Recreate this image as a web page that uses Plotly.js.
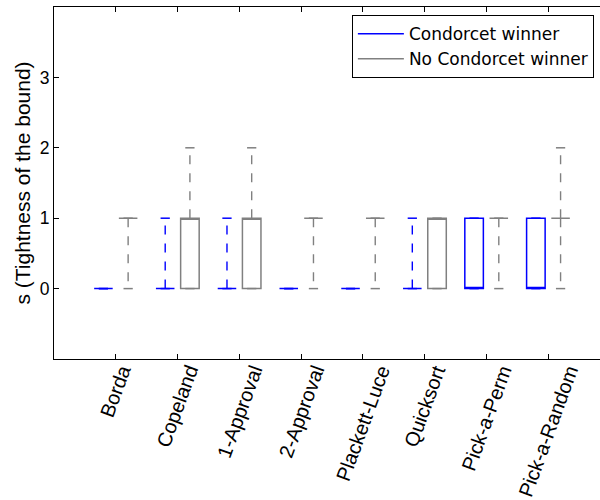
<!DOCTYPE html>
<html>
<head>
<meta charset="utf-8">
<script src="https://cdn.plot.ly/plotly-3.0.1.min.js"></script>
<style>
html, body { margin: 0; padding: 0; overflow: hidden; background: #fff; }
#chart { width: 610px; height: 500px; }
</style>
</head>
<body>
<div id="chart"></div>
<script>
// ---- data ----
const categories = ['Borda', 'Copeland', '1-Approval', '2-Approval', 'Plackett-Luce', 'Quicksort', 'Pick-a-Perm', 'Pick-a-Random'];

// Condorcet winner (blue)
const cwLow  = [0, 0, 0, 0, 0, 0, 0, 0];
const cwQ1   = [0, 0, 0, 0, 0, 0, 0, 0];
const cwMed  = [0, 0, 0, 0, 0, 0, 0, 0];
const cwQ3   = [0, 0, 0, 0, 0, 0, 1, 1];
const cwHigh = [0, 1, 1, 0, 0, 1, 1, 1];

// No Condorcet winner (gray)
const ncLow  = [0, 0, 0, 0, 0, 0, 0, 0];
const ncQ1   = [1, 0, 0, 1, 1, 0, 1, 1];
const ncMed  = [1, 1, 1, 1, 1, 1, 1, 1];
const ncQ3   = [1, 1, 1, 1, 1, 1, 1, 1];
const ncHigh = [1, 2, 2, 1, 1, 1, 1, 2];

const yTicks = [0, 1, 2, 3];

// ---- styling / layout ----
const BLUE = '#0000ff';
const GRAY = '#808080';
const ARIAL = 'Liberation Sans, Arial, sans-serif';
const DEJAVU = 'DejaVu Sans, sans-serif';
const OFFSET = 0.2, BOXW = 0.3, CAPW = 0.15;
const centers = categories.map((_, i) => i + 1);

function group(color, offset, low, q1, med, q3, high) {
  const pos = centers.map(c => c + offset);
  const box = {
    type: 'box', x: pos, q1: q1, median: med, q3: q3,
    lowerfence: q1, upperfence: q3, width: BOXW,
    line: { color: color, width: 1.5 }, fillcolor: 'rgba(0,0,0,0)',
    boxpoints: false, showlegend: false, hoverinfo: 'skip'
  };
  const wx = [], wy = [], cx = [], cy = [];
  pos.forEach((p, i) => {
    if (high[i] !== q3[i]) { wx.push(p, p, null); wy.push(q3[i], high[i], null); }
    if (low[i] !== q1[i]) { wx.push(p, p, null); wy.push(q1[i], low[i], null); }
    cx.push(p - CAPW / 2, p + CAPW / 2, null); cy.push(high[i], high[i], null);
    cx.push(p - CAPW / 2, p + CAPW / 2, null); cy.push(low[i], low[i], null);
  });
  const whisk = {
    type: 'scatter', mode: 'lines', x: wx, y: wy,
    line: { color: color, width: 1.4, dash: '9px,9px' },
    showlegend: false, hoverinfo: 'skip'
  };
  const caps = {
    type: 'scatter', mode: 'lines', x: cx, y: cy,
    line: { color: color, width: 1.5 }, showlegend: false, hoverinfo: 'skip'
  };
  return [box, whisk, caps];
}

const traces = [
  ...group(BLUE, -OFFSET, cwLow, cwQ1, cwMed, cwQ3, cwHigh),
  ...group(GRAY, OFFSET, ncLow, ncQ1, ncMed, ncQ3, ncHigh),
  { type: 'scatter', mode: 'lines', x: [null], y: [null], name: 'Condorcet winner', line: { color: BLUE, width: 1.5 } },
  { type: 'scatter', mode: 'lines', x: [null], y: [null], name: 'No Condorcet winner', line: { color: GRAY, width: 1.5 } }
];

// rotated category labels, centred under each tick (matplotlib style)
const labelAnnotations = categories.map((name, i) => ({
  text: name, x: centers[i], xref: 'x', y: 0, yref: 'paper',
  xanchor: 'center', yanchor: 'top', yshift: -2, textangle: -70,
  showarrow: false, borderpad: 0,
  font: { family: ARIAL, size: 20, color: '#000' }
}));

const layout = {
  width: 610, height: 500,
  margin: { l: 54, r: 0, t: 7, b: 141 },
  paper_bgcolor: '#fff', plot_bgcolor: '#fff',
  font: { family: DEJAVU, size: 17, color: '#000' },
  showlegend: true,
  legend: {
    x: 0.971, xanchor: 'right', y: 0.977, yanchor: 'top',
    bordercolor: '#000', borderwidth: 1, bgcolor: '#fff', itemwidth: 46,
    font: { family: DEJAVU, size: 17, color: '#000' }
  },
  annotations: labelAnnotations,
  xaxis: {
    range: [0, 9], tickvals: centers, ticktext: categories, showticklabels: false,
    ticks: 'inside', ticklen: 5, tickcolor: '#000', tickwidth: 1,
    showline: true, linecolor: '#000', linewidth: 1, mirror: 'ticks',
    showgrid: false, zeroline: false
  },
  yaxis: {
    range: [-1, 4], tickvals: yTicks, ticktext: yTicks.map(String),
    ticks: 'inside', ticklen: 5, tickcolor: '#000', tickwidth: 1,
    showline: true, linecolor: '#000', linewidth: 1, mirror: 'ticks',
    showgrid: false, zeroline: false,
    tickfont: { family: ARIAL, size: 17.5, color: '#000' },
    title: { text: 's (Tightness of the bound)', font: { family: ARIAL, size: 21, color: '#000' }, standoff: 3 }
  }
};

Plotly.newPlot('chart', traces, layout, { staticPlot: true, displayModeBar: false });
</script>
</body>
</html>
